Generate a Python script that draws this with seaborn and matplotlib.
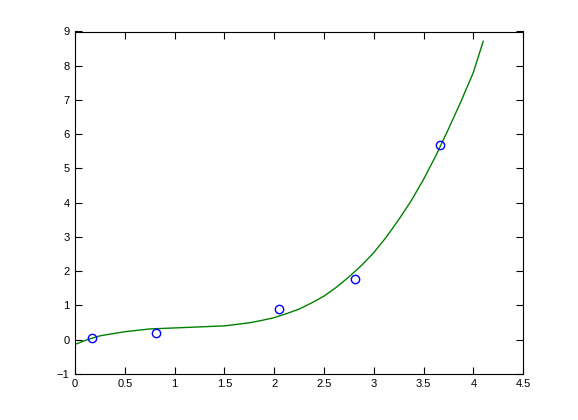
import numpy as np
import matplotlib
matplotlib.use("Agg")
import matplotlib.pyplot as plt
import seaborn as sns

# measured data points
pts_x = [0.17, 0.81, 2.05, 2.81, 3.665]
pts_y = [0.06, 0.18, 0.88, 1.76, 5.68]

# fitted curve
curve_x = [0.0, 0.125, 0.25, 0.5, 0.75, 1.0, 1.25, 1.5, 1.75, 1.875, 2.0,
           2.125, 2.25, 2.375, 2.5, 2.625, 2.75, 2.875, 3.0, 3.125, 3.25,
           3.375, 3.5, 3.625, 3.75, 3.875, 4.0, 4.1]
curve_y = [-0.14, 0.0, 0.11, 0.23, 0.31, 0.34, 0.37, 0.40, 0.49, 0.56, 0.64,
           0.76, 0.89, 1.07, 1.27, 1.53, 1.83, 2.16, 2.54, 2.99, 3.50,
           4.05, 4.68, 5.38, 6.15, 6.95, 7.80, 8.72]

x_ticks = [0, 0.5, 1, 1.5, 2, 2.5, 3, 3.5, 4, 4.5]
x_labels = ["0", "0.5", "1", "1.5", "2", "2.5", "3", "3.5", "4", "4.5"]
y_ticks = list(range(-1, 10))

sns.set_style("ticks")
plt.rcParams["font.family"] = ["Liberation Sans", "DejaVu Sans"]
plt.rcParams["xtick.direction"] = "in"
plt.rcParams["ytick.direction"] = "in"

fig = plt.figure(figsize=(5.78, 4.2), dpi=100)
ax = fig.add_axes([0.13, 0.11, 0.775, 0.815])

sns.lineplot(x=curve_x, y=curve_y, color=(0, 0.5, 0), linewidth=1.0, ax=ax,
             sort=False)
ax.plot(pts_x, pts_y, "o", markerfacecolor="none", markeredgecolor="blue",
        markersize=6, markeredgewidth=1.0)

ax.set_xlim(0, 4.5)
ax.set_ylim(-1, 9)
ax.set_xticks(x_ticks)
ax.set_xticklabels(x_labels)
ax.set_yticks(y_ticks)
ax.tick_params(axis="both", which="both", top=True, right=True, length=5,
               width=0.8, labelsize=8, color="black", labelcolor="black", pad=4)
for s in ax.spines.values():
    s.set_visible(True)
    s.set_color("black")
    s.set_linewidth(0.8)

fig.savefig("out.png", dpi=100, facecolor="white")
